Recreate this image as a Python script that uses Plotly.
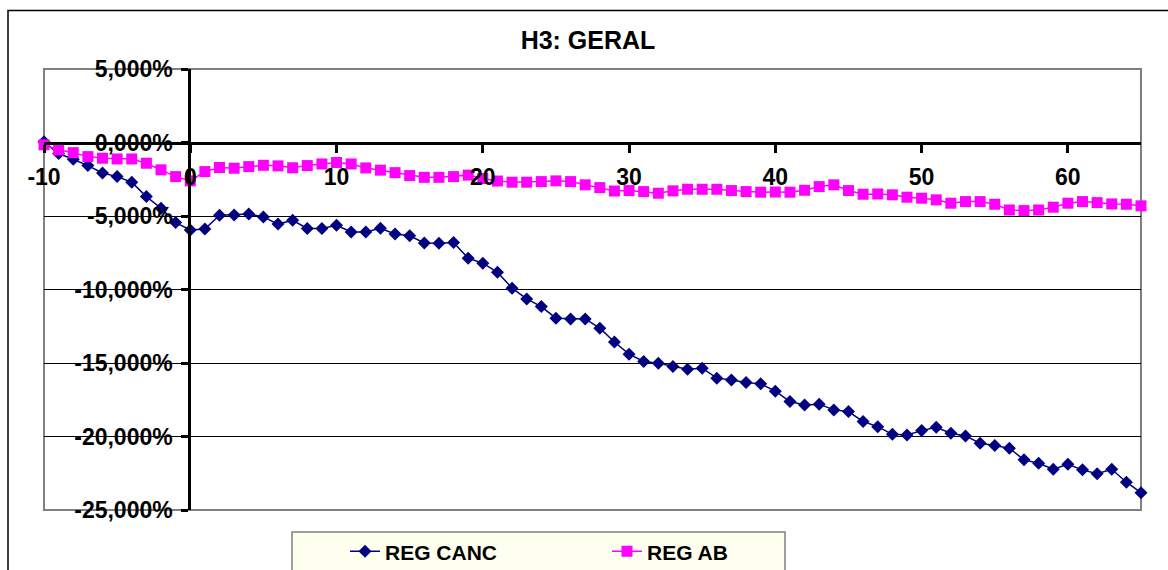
import plotly.graph_objects as go

# ---- data ----
periods = [-10, -9, -8, -7, -6, -5, -4, -3, -2, -1, 0, 1, 2, 3, 4, 5, 6, 7, 8, 9,
           10, 11, 12, 13, 14, 15, 16, 17, 18, 19, 20, 21, 22, 23, 24, 25, 26, 27, 28, 29,
           30, 31, 32, 33, 34, 35, 36, 37, 38, 39, 40, 41, 42, 43, 44, 45, 46, 47, 48, 49,
           50, 51, 52, 53, 54, 55, 56, 57, 58, 59, 60, 61, 62, 63, 64, 65]

reg_canc = [0.05, -0.75, -1.14, -1.57, -2.07, -2.32, -2.70, -3.68, -4.47, -5.45,
            -5.95, -5.88, -4.95, -4.93, -4.87, -5.06, -5.55, -5.29, -5.85, -5.85,
            -5.63, -6.08, -6.08, -5.83, -6.22, -6.35, -6.83, -6.85, -6.81, -7.87,
            -8.21, -8.83, -9.91, -10.64, -11.16, -11.95, -12.00, -12.00, -12.63, -13.57,
            -14.40, -14.90, -15.01, -15.24, -15.42, -15.35, -16.03, -16.15, -16.33, -16.42,
            -16.92, -17.62, -17.85, -17.80, -18.19, -18.30, -18.98, -19.33, -19.85, -19.89,
            -19.60, -19.37, -19.78, -19.96, -20.46, -20.61, -20.80, -21.59, -21.82, -22.23,
            -21.89, -22.27, -22.54, -22.23, -23.11, -23.82]

reg_ab = [-0.16, -0.50, -0.69, -0.96, -1.07, -1.12, -1.12, -1.41, -1.86, -2.32,
          -2.61, -1.98, -1.70, -1.75, -1.64, -1.55, -1.59, -1.72, -1.57, -1.46,
          -1.36, -1.46, -1.73, -1.88, -2.05, -2.25, -2.37, -2.37, -2.32, -2.22,
          -2.45, -2.62, -2.70, -2.70, -2.66, -2.61, -2.66, -2.88, -3.07, -3.30,
          -3.27, -3.34, -3.45, -3.29, -3.18, -3.18, -3.18, -3.27, -3.34, -3.38,
          -3.37, -3.38, -3.25, -3.00, -2.88, -3.27, -3.52, -3.50, -3.56, -3.72,
          -3.79, -3.90, -4.13, -4.02, -4.02, -4.20, -4.59, -4.63, -4.59, -4.40,
          -4.13, -4.02, -4.09, -4.18, -4.20, -4.31]

x_tickvals = [-10, 0, 10, 20, 30, 40, 50, 60]
x_ticktext = ["-10", "0", "10", "20", "30", "40", "50", "60"]
y_tickvals = [5, 0, -5, -10, -15, -20, -25]
y_ticktext = ["5,000%", "0,000%", "-5,000%", "-10,000%", "-15,000%", "-20,000%", "-25,000%"]

series_names = ["REG CANC", "REG AB"]
title_text = "H3: GERAL"

FONT = "Liberation Sans, Arial, sans-serif"

fig = go.Figure()
fig.add_trace(go.Scatter(
    x=periods, y=reg_canc, name=series_names[0], mode="lines+markers",
    line=dict(color="#000080", width=1.5),
    marker=dict(symbol="diamond", size=10, color="#000080"),
    cliponaxis=False,
))
fig.add_trace(go.Scatter(
    x=periods, y=reg_ab, name=series_names[1], mode="lines+markers",
    line=dict(color="#FF00FF", width=1.5),
    marker=dict(symbol="square", size=11, color="#FF00FF"),
    cliponaxis=False,
))

L, R, T, B = 44, 27, 69, 60
W, H = 1168, 570
pw, ph = W - L - R, H - T - B

def px_to_paper_x(px):
    return (px - L) / pw

def py_to_paper_y(py):
    return (H - B - py) / ph

fig.update_layout(
    width=W, height=H,
    margin=dict(l=L, r=R, t=T, b=B, pad=0, autoexpand=False),
    paper_bgcolor="white", plot_bgcolor="white",
    font=dict(family=FONT, color="black"),
    title=dict(text=title_text, x=px_to_paper_x(588), xref="paper", xanchor="center",
               y=1 - 40 / H, yref="container", yanchor="middle",
               font=dict(size=25, weight="bold", family=FONT, color="black")),
    xaxis=dict(range=[-10, 65], domain=[0, 1], anchor="free", position=py_to_paper_y(142.6),
               showline=True, linecolor="black", linewidth=3,
               ticks="outside", ticklen=8, tickwidth=3, tickcolor="black",
               tickvals=x_tickvals, ticktext=x_ticktext,
               showgrid=False, zeroline=False, ticklabelstandoff=5,
               tickfont=dict(size=23, weight="bold", family=FONT, color="black")),
    yaxis=dict(range=[-25, 5], domain=[0, 1], anchor="free", position=px_to_paper_x(189.3),
               showline=True, linecolor="black", linewidth=3,
               ticks="outside", ticklen=7, tickwidth=3, tickcolor="black",
               tickvals=y_tickvals, ticktext=y_ticktext,
               showgrid=True, gridcolor="black", gridwidth=1, zeroline=False,
               ticklabelstandoff=4,
               tickfont=dict(size=23, weight="bold", family=FONT, color="black")),
    showlegend=True,
    legend=dict(orientation="h", x=px_to_paper_x(345), xanchor="left",
                y=py_to_paper_y(551.7), yanchor="middle",
                bgcolor="rgba(0,0,0,0)", borderwidth=0,
                entrywidth=217, entrywidthmode="pixels",
                font=dict(size=21, weight="bold", family=FONT, color="black")),
)

# outer chart border
fig.add_shape(type="rect", xref="paper", yref="paper",
              x0=px_to_paper_x(8), x1=px_to_paper_x(1200),
              y0=py_to_paper_y(620), y1=py_to_paper_y(10.5),
              line=dict(color="black", width=1.5), layer="below")
# plot area border
fig.add_shape(type="rect", xref="paper", yref="paper", x0=0, x1=1, y0=0, y1=1,
              line=dict(color="#808080", width=2), layer="between")
# legend box
fig.add_shape(type="rect", xref="paper", yref="paper",
              x0=px_to_paper_x(292), x1=px_to_paper_x(785),
              y0=py_to_paper_y(600), y1=py_to_paper_y(532),
              line=dict(color="#808080", width=1.5), fillcolor="#FFFFF0", layer="below")

fig.write_html("out.html")
